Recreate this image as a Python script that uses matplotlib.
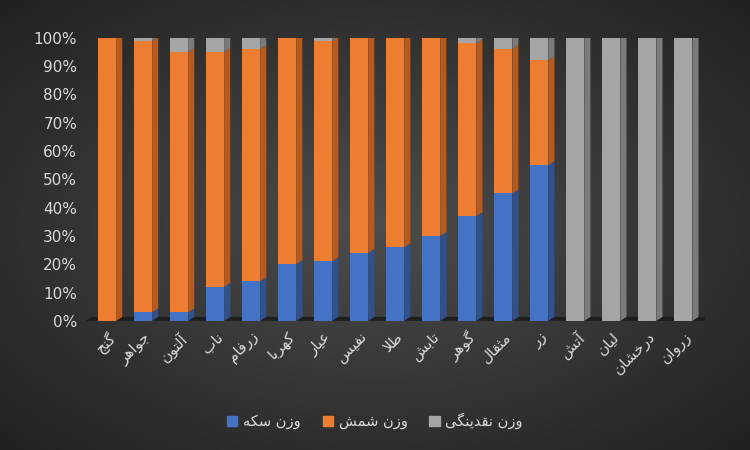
import numpy as np
import matplotlib
matplotlib.use("Agg")
import matplotlib.pyplot as plt
from matplotlib.patches import Polygon, Patch

categories = ["گنج", "جواهر", "آلتون", "ناب", "زرفام", "کهربا", "عیار", "نفیس", "طلا",
              "تابش", "گوهر", "مثقال", "زر", "آتش", "لیان", "درخشان", "زروان"]
coin = [0, 3, 3, 12, 14, 20, 21, 24, 26, 30, 37, 45, 55, 0, 0, 0, 0]
cash = [0, 1, 5, 5, 4, 0, 1, 0, 0, 0, 2, 4, 8, 100, 100, 100, 100]
bullion = [100 - a - b for a, b in zip(coin, cash)]
series_names = ["وزن سکه", "وزن شمش", "وزن نقدینگی"]
yticks = list(range(0, 101, 10))

FORMS = {
    'ا': (0xFE8D, 0xFE8E, None, None), 'آ': (0xFE81, 0xFE82, None, None),
    'ب': (0xFE8F, 0xFE90, 0xFE91, 0xFE92), 'ت': (0xFE95, 0xFE96, 0xFE97, 0xFE98),
    'ث': (0xFE99, 0xFE9A, 0xFE9B, 0xFE9C), 'ج': (0xFE9D, 0xFE9E, 0xFE9F, 0xFEA0),
    'خ': (0xFEA5, 0xFEA6, 0xFEA7, 0xFEA8), 'د': (0xFEA9, 0xFEAA, None, None),
    'ر': (0xFEAD, 0xFEAE, None, None), 'ز': (0xFEAF, 0xFEB0, None, None),
    'س': (0xFEB1, 0xFEB2, 0xFEB3, 0xFEB4), 'ش': (0xFEB5, 0xFEB6, 0xFEB7, 0xFEB8),
    'ط': (0xFEC1, 0xFEC2, 0xFEC3, 0xFEC4), 'ع': (0xFEC9, 0xFECA, 0xFECB, 0xFECC),
    'ف': (0xFED1, 0xFED2, 0xFED3, 0xFED4), 'ق': (0xFED5, 0xFED6, 0xFED7, 0xFED8),
    'ل': (0xFEDD, 0xFEDE, 0xFEDF, 0xFEE0), 'م': (0xFEE1, 0xFEE2, 0xFEE3, 0xFEE4),
    'ن': (0xFEE5, 0xFEE6, 0xFEE7, 0xFEE8), 'ه': (0xFEE9, 0xFEEA, 0xFEEB, 0xFEEC),
    'و': (0xFEED, 0xFEEE, None, None), 'ک': (0xFB8E, 0xFB8F, 0xFB90, 0xFB91),
    'گ': (0xFB92, 0xFB93, 0xFB94, 0xFB95), 'ی': (0xFBFC, 0xFBFD, 0xFBFE, 0xFBFF),
}

def shape_word(w):
    chars = list(w)
    out = []
    i = 0
    n = len(chars)
    while i < n:
        c = chars[i]
        if c not in FORMS:
            out.append(c); i += 1; continue
        prev_joins = i > 0 and chars[i-1] in FORMS and FORMS[chars[i-1]][2] is not None
        # lam-alef ligature
        if c == 'ل' and i + 1 < n and chars[i+1] in ('ا', 'آ'):
            if chars[i+1] == 'ا':
                out.append(chr(0xFEFC if prev_joins else 0xFEFB))
            else:
                out.append(chr(0xFEF6 if prev_joins else 0xFEF5))
            i += 2; continue
        next_ok = i + 1 < n and chars[i+1] in FORMS and FORMS[c][2] is not None
        iso, fin, ini, med = FORMS[c]
        if prev_joins and next_ok:
            out.append(chr(med))
        elif prev_joins:
            out.append(chr(fin))
        elif next_ok:
            out.append(chr(ini))
        else:
            out.append(chr(iso))
        i += 1
    return "".join(out)

def rtl(s):
    return " ".join(shape_word(w)[::-1] for w in s.split(" ")[::-1])

fig = plt.figure(figsize=(7.5, 4.5), dpi=100)
bg = fig.add_axes([0, 0, 1, 1])
yy, xx = np.mgrid[0:1:200j, 0:1:300j]
r = np.sqrt(((xx - 0.5) / 0.7) ** 2 + ((yy - 0.5) / 0.7) ** 2)
val = 0.30 - 0.17 * r
bg.imshow(np.dstack([val, val, val]), extent=[0, 1, 0, 1], aspect='auto')
bg.axis('off')

ax = fig.add_axes([0.114, 0.287, 0.826, 0.629])
ax.set_facecolor('none')
x = np.arange(len(categories))
w = 0.5
dx, dy = 0.17, 1.4
colors = ['#4472C4', '#ED7D31', '#A5A5A5']
dark = ['#2f528f', '#b85a1c', '#7b7b7b']
top = ['#6a8fd4', '#f29a5c', '#c0c0c0']

# floor
ax.add_patch(Polygon([(-0.6, 0), (16.6, 0), (16.6 + dx, dy), (-0.6 + dx, dy)],
                     closed=True, facecolor='#1e1e1e', edgecolor='none', zorder=1))
ax.add_patch(Polygon([(-0.6, 0), (16.6, 0), (16.6, -0.5), (-0.6, -0.5)],
                     closed=True, facecolor='#141414', edgecolor='none', zorder=1))

data = [coin, bullion, cash]
bottom = np.zeros(len(x))
for k, vals in enumerate(data):
    vals = np.array(vals, dtype=float)
    ax.bar(x, vals, w, bottom=bottom, color=colors[k], zorder=3, linewidth=0)
    for i in range(len(x)):
        if vals[i] <= 0:
            continue
        b0, b1 = bottom[i], bottom[i] + vals[i]
        xr = x[i] + w / 2
        ax.add_patch(Polygon([(xr, b0), (xr + dx, b0 + dy), (xr + dx, b1 + dy), (xr, b1)],
                             closed=True, facecolor=dark[k], edgecolor='none', zorder=3))
    bottom += vals
for i in range(len(x)):
    xl, xr = x[i] - w / 2, x[i] + w / 2
    k = 2 if cash[i] > 0 else 1
    ax.add_patch(Polygon([(xl, 100), (xr, 100), (xr + dx, 100 + dy), (xl + dx, 100 + dy)],
                         closed=True, facecolor=top[k], edgecolor='none', zorder=3))

ax.set_xlim(-0.6, 16.6)
ax.set_ylim(0, 100)
ax.set_yticks(yticks)
ax.set_yticklabels([f"{t}%" for t in yticks], color='#d9d9d9', fontsize=11)
ax.set_xticks(x)
ax.set_xticklabels([rtl(c) for c in categories], rotation=45, ha='right',
                   rotation_mode='anchor', color='#d9d9d9', fontsize=11, family='DejaVu Sans')
ax.tick_params(length=0, pad=6)
for s in ax.spines.values():
    s.set_visible(False)

handles = [Patch(color=colors[k]) for k in range(3)]
leg = fig.legend(handles, [rtl(s) for s in series_names], loc='center',
                 bbox_to_anchor=(0.5, 0.065), ncol=3, frameon=False,
                 fontsize=10.5, handlelength=0.7, handleheight=0.7, columnspacing=1.5,
                 handletextpad=0.4)
for t in leg.get_texts():
    t.set_color('#d9d9d9')

fig.savefig("out.png", dpi=100)
